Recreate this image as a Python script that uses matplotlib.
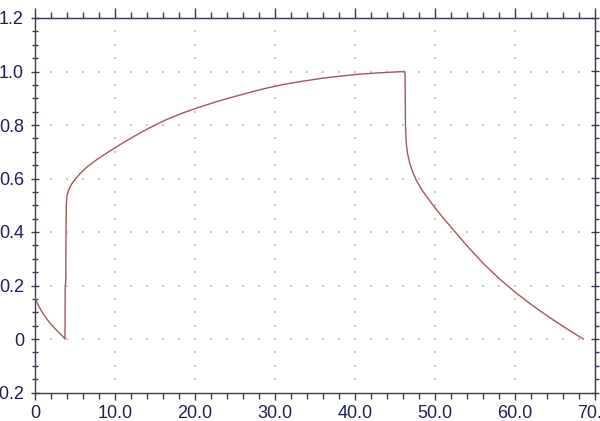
import numpy as np
import matplotlib
matplotlib.use("Agg")
import matplotlib.pyplot as plt
from matplotlib.ticker import MultipleLocator, FixedLocator

# ---- data ----
x_vals = [0.0, 0.5, 1.0, 1.5, 2.0, 2.5, 3.0, 3.5, 3.75,
          3.76, 3.78, 3.85, 3.88, 3.92, 4.0, 4.2, 4.6, 5.0, 5.6, 6.5, 7.7, 8.6,
          9.6, 11.0, 12.3, 14.3, 16.5, 18.5, 20.6, 22.7, 24.8, 27.0, 29.0, 31.0,
          33.1, 36.0, 38.0, 40.2, 43.0, 46.25,
          46.3, 46.35, 46.45, 46.6, 46.9, 47.3, 47.7, 48.5, 49.8, 51.0, 52.0,
          54.0, 56.0, 58.1, 60.2, 62.3, 64.4, 66.5, 68.6]
y_vals = [0.152, 0.121, 0.095, 0.074, 0.055, 0.039, 0.024, 0.009, 0.0,
          0.05, 0.20, 0.21, 0.40, 0.50, 0.535, 0.556, 0.580, 0.596, 0.617, 0.643, 0.670, 0.688,
          0.707, 0.733, 0.756, 0.789, 0.821, 0.845, 0.867, 0.887, 0.905, 0.923, 0.938, 0.951,
          0.962, 0.975, 0.982, 0.989, 0.995, 1.0,
          0.99, 0.80, 0.730, 0.695, 0.655, 0.620, 0.594, 0.553, 0.500, 0.455, 0.420,
          0.350, 0.285, 0.225, 0.172, 0.124, 0.080, 0.039, 0.0]

x_ticks = [0, 10, 20, 30, 40, 50, 60, 70]
x_ticklabels = ["0", "10.0", "20.0", "30.0", "40.0", "50.0", "60.0", "70.0"]
y_ticks = [-0.2, 0, 0.2, 0.4, 0.6, 0.8, 1.0, 1.2]
y_ticklabels = ["-0.2", "0", "0.2", "0.4", "0.6", "0.8", "1.0", "1.2"]

plt.rcParams['font.family'] = ['Liberation Sans', 'DejaVu Sans']

fig = plt.figure(figsize=(6.0, 4.21), dpi=100)
ax = fig.add_axes([35/600, (421-392.5)/421, (594.5-35)/600, (392.5-18)/421])

ax.set_xlim(0, 70)
ax.set_ylim(-0.2, 1.2)

# dotted grid (dots at minor spacing along major lines)
gx_major = [v for v in x_ticks if 0 < v < 70]
gy_major = [v for v in y_ticks if -0.2 < v < 1.2]
minor_x = np.arange(0, 70.01, 2)
minor_y = np.arange(-0.2, 1.2001, 0.05)
pts = []
for gx in gx_major:
    for my in minor_y[1:-1]:
        pts.append((gx, my))
for gy in gy_major:
    for mx in minor_x[1:-1]:
        pts.append((mx, gy))
pts = np.array(pts)
ax.scatter(pts[:, 0], pts[:, 1], s=1.2, color="#c9c9c9", marker='s',
           linewidths=0, zorder=1)

ax.plot(x_vals, y_vals, color="#a5565a", lw=1.0, zorder=3)

spine_col = "#3a3a55"
for s in ax.spines.values():
    s.set_color(spine_col)
    s.set_linewidth(1.0)

label_col = "#1e1e5a"
ax.xaxis.set_major_locator(FixedLocator(x_ticks))
ax.set_xticklabels(x_ticklabels)
ax.xaxis.set_minor_locator(MultipleLocator(2))
ax.yaxis.set_major_locator(FixedLocator(y_ticks))
ax.set_yticklabels(y_ticklabels)
ax.yaxis.set_minor_locator(MultipleLocator(0.05))

ax.tick_params(axis='x', which='major', direction='out', length=5, width=1,
               color=spine_col, labelcolor=label_col, labelsize=13, pad=4,
               top=False)
ax.tick_params(axis='x', which='minor', direction='out', length=4, width=1,
               color=spine_col, top=False)
ax.tick_params(axis='y', which='major', direction='inout', length=6, width=1,
               color=spine_col, labelcolor=label_col, labelsize=13, pad=5,
               right=False)
ax.tick_params(axis='y', which='minor', direction='inout', length=4, width=1,
               color=spine_col, right=False)

# top and right ticks
secx = ax.secondary_xaxis('top')
secx.xaxis.set_major_locator(FixedLocator(x_ticks))
secx.xaxis.set_minor_locator(MultipleLocator(2))
secx.tick_params(which='major', direction='out', length=7, width=1, color=spine_col,
                 labeltop=False)
secx.tick_params(which='minor', direction='out', length=4, width=1, color=spine_col)
secx.spines['top'].set_color(spine_col)

secy = ax.secondary_yaxis('right')
secy.yaxis.set_major_locator(FixedLocator(y_ticks))
secy.yaxis.set_minor_locator(MultipleLocator(0.05))
secy.tick_params(which='major', direction='inout', length=6, width=1, color=spine_col,
                 labelright=False)
secy.tick_params(which='minor', direction='out', length=3, width=1, color=spine_col)
secy.spines['right'].set_color(spine_col)

fig.savefig("out.png", dpi=100)
